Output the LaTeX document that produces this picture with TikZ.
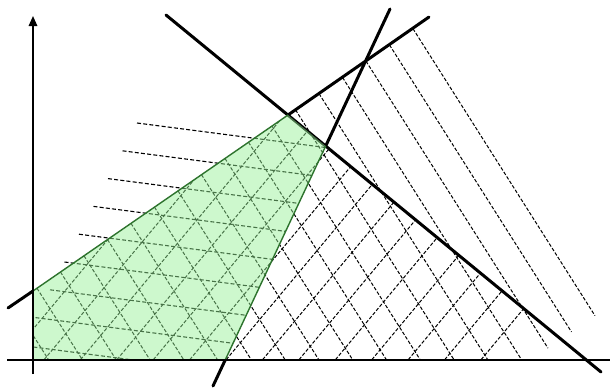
\documentclass[tikz,border=0pt]{standalone}
\usetikzlibrary{arrows.meta}
\definecolor{regfill}{RGB}{150,240,150}
\definecolor{regedge}{RGB}{45,115,45}
\begin{document}
\begin{tikzpicture}[x=1pt,y=-1pt,
  bound/.style={line width=3pt, line cap=round},
  axisline/.style={line width=1.6pt},
  hatch/.style={line width=1pt, dash pattern=on 3.5pt off 1.8pt},
  hatchh/.style={line width=1.1pt, dash pattern=on 4pt off 2.2pt},
  regborder/.style={regedge, line width=1.4pt}]
\useasboundingbox (0,0) rectangle (610,388);
% key points
\coordinate (P) at (33,291);
\coordinate (V) at (288,115);
\coordinate (Q) at (325.7,146);
\coordinate (R) at (225.2,360);
\coordinate (O) at (33,360);
\coordinate (A0) at (8,308);
\coordinate (A1) at (429,17);
\coordinate (B0) at (166,15);
\coordinate (B1) at (601,372);
\coordinate (BX) at (586.8,360);
\coordinate (C0) at (390,9);
\coordinate (C1) at (213,386);
\coordinate (CT) at (394.2,0);
\coordinate (XL) at (7,360);
\coordinate (XR) at (610,360);
\coordinate (YB) at (33,374);
\coordinate (YT) at (33,16);
% hatching perpendicular-ish to line A (down-right)
\begin{scope}
\clip (33,0) rectangle (610,360);
\foreach \n in {0,...,17}{
  \pgfmathsetmacro{\xs}{413-23.5*\n}
  \pgfmathsetmacro{\ys}{291-0.6902*(\xs-33)}
  \draw[hatch] (\xs,\ys) -- ++(182,287);
}
\end{scope}
% hatching for line B (up-right)
\begin{scope}
\clip (P) -- (V) -- (BX) -- (O) -- cycle;
\foreach \n in {0,...,13}{
  \pgfmathsetmacro{\cc}{937-43.7*\n}
  \draw[hatch] ({(\cc-380)/1.2},380) -- ({(\cc-100)/1.2},100);
}
\end{scope}
% nearly horizontal hatching for line C
\begin{scope}
\clip (33,0) -- (CT) -- (R) -- (O) -- cycle;
\foreach \n in {0,...,8}{
  \pgfmathsetmacro{\xs}{137-14.5*\n}
  \pgfmathsetmacro{\ys}{123+27.8*\n}
  \draw[hatchh] (\xs,\ys) -- ++(320,41.6);
}
\end{scope}
% boundary lines
\draw[bound] (B0) -- (B1);
\draw[bound] (A0) -- (P);
\draw[bound] (V) -- (A1);
\draw[bound] (C0) -- (Q);
\draw[bound] (R) -- (C1);
% feasible region
\fill[regfill, fill opacity=0.48] (P) -- (V) -- (Q) -- (R) -- (O) -- cycle;
\draw[regborder] (P) -- (V);
\draw[regborder] (Q) -- (R);
% axes
\draw[axisline] (XL) -- (XR);
\draw[axisline, -{Triangle[length=10pt,width=8.5pt]}] (YB) -- (YT);
\end{tikzpicture}
\end{document}
